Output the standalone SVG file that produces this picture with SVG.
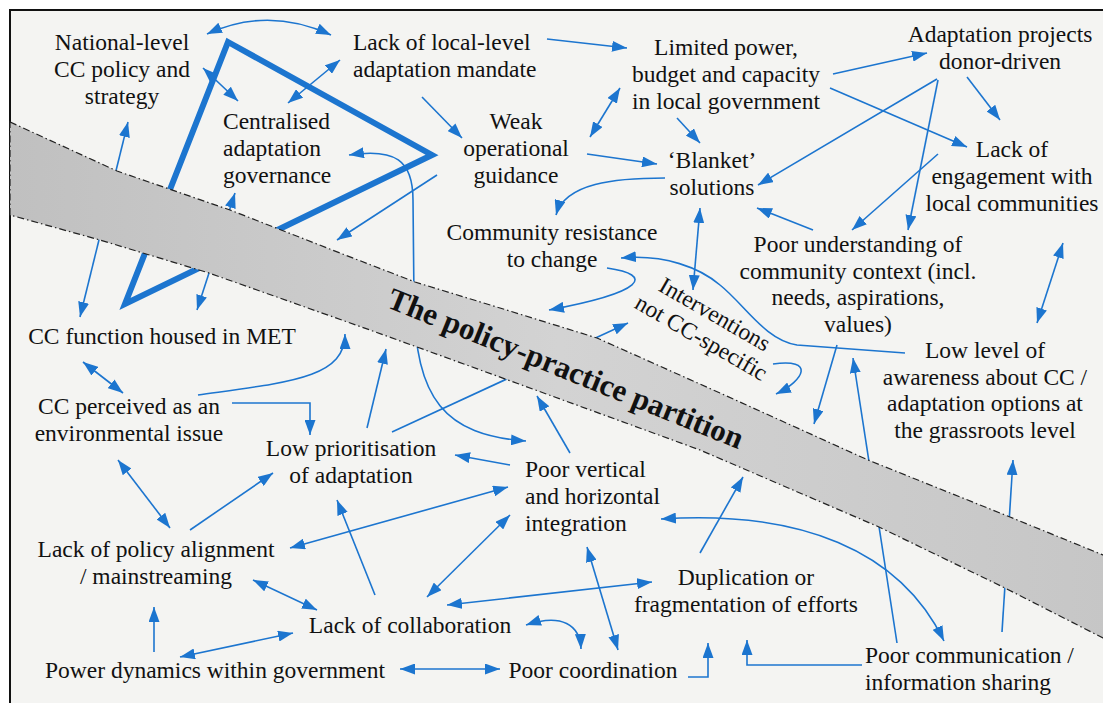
<svg xmlns="http://www.w3.org/2000/svg" width="1103" height="703" viewBox="0 0 1103 703">
<defs>
<style>
.t{font-family:"Liberation Serif","Times New Roman",serif;font-size:23.5px;fill:#111}
.c path{fill:none;stroke:#1c75cf;stroke-width:1.6}
.e{marker-end:url(#ah)}
.b{marker-start:url(#ah);marker-end:url(#ah)}
</style>
<marker id="ah" markerUnits="userSpaceOnUse" markerWidth="15" markerHeight="11" refX="15" refY="5.5" orient="auto-start-reverse"><path d="M0,0 L15,5.5 L0,11 z" fill="#1c75cf"/></marker>
<linearGradient id="bg" x1="0" y1="0" x2="1" y2="0"><stop offset="0" stop-color="#c0c0c0"/><stop offset="0.5" stop-color="#d3d3d3"/><stop offset="1" stop-color="#c6c6c6"/></linearGradient>
</defs>
<rect width="1103" height="703" fill="#fff"/>
<rect x="10" y="10" width="1100" height="700" fill="#f4f4f2" stroke="#111" stroke-width="2"/>
<g id="triangle"><path d="M228,42 L432,155 L125,304 Z" fill="none" stroke="#1c75cf" stroke-width="6"/></g>
<g id="connectors" class="c">
<path class="b" d="M207,34 Q268,6 331,35"/>
<path class="b" d="M203,68 L238,101"/>
<path class="b" d="M340,60 L288,103"/>
<path class="b" d="M128,122 L80,317"/>
<path class="b" d="M235,193 L197,310"/>
<path class="e" d="M422,97 L462,138"/>
<path class="e" d="M547,39 L627,48"/>
<path class="b" d="M590,137 L620,88"/>
<path class="e" d="M587,154 L657,164"/>
<path class="e" d="M677,118 L700,143"/>
<path class="e" d="M665,178 C615,178 565,183 556,215"/>
<path class="b" d="M349,155 C395,148 413,160 413,200 L414,300 C415,400 445,435 526,441"/>
<path class="e" d="M437,175 L337,240"/>
<path class="e" d="M833,74 L927,53"/>
<path class="e" d="M830,88 L967,147"/>
<path class="e" d="M937,79 L758,185"/>
<path class="e" d="M938,80 L908,230"/>
<path class="e" d="M967,77 L1000,120"/>
<path class="e" d="M938,154 L852,230"/>
<path class="e" d="M813,230 L757,208"/>
<path class="b" d="M700,208 L693,290"/>
<path class="e" d="M905,353 L797,345 C765,340 745,305 720,285 C700,268 665,254 621,258"/>
<path class="e" d="M607,268 C655,275 645,292 549,310"/>
<path class="e" d="M773,364 C815,358 805,380 776,394"/>
<path class="e" d="M837,345 L814,424"/>
<path class="e" d="M897,643 L853,358"/>
<path class="b" d="M1063,243 L1037,323"/>
<path class="e" d="M1002,632 L1013,460"/>
<path class="b" d="M661,519 C800,510 900,550 944,641"/>
<path class="e" d="M700,553 L743,477"/>
<path class="e" d="M688,677 H708 V643"/>
<path class="e" d="M862,665 H747 V640"/>
<path class="b" d="M587,547 L618,650"/>
<path class="b" d="M447,605 L652,582"/>
<path class="b" d="M427,597 L510,515"/>
<path class="b" d="M526,625 C562,613 580,625 581,649"/>
<path class="b" d="M400,669 L500,669"/>
<path class="e" d="M375,595 L337,500"/>
<path class="b" d="M290,548 L508,487"/>
<path class="e" d="M190,530 L273,473"/>
<path class="b" d="M118,460 L170,528"/>
<path class="b" d="M253,580 L317,610"/>
<path class="e" d="M154,652 L154,607"/>
<path class="b" d="M180,657 L293,633"/>
<path class="b" d="M83,362 L123,393"/>
<path class="e" d="M198,395 C290,382 345,378 345,334"/>
<path class="e" d="M232,403 H310 V435"/>
<path class="e" d="M367,428 L386,349"/>
<path class="e" d="M392,432 L628,323"/>
<path class="e" d="M570,453 L537,396"/>
<path class="e" d="M510,465 L455,455"/>
</g>
<g id="partition">
<path d="M10,122 L117,171 L230,210 L340,253 L415,282 L500,308 L597,338 L720,393 L868,460 L1010,517 L1103,555 L1110,558 L1110,642 L1103,638 L1005,588 L879,527 L700,450 L508,380 L370,330 L209,273 L100,240 L10,215 Z" fill="url(#bg)" stroke="#222" stroke-width="1.2" stroke-dasharray="7 3 1.5 3"/>
<text transform="translate(562,378) rotate(22)" text-anchor="middle" style="font-family:'Liberation Serif','Times New Roman',serif;font-size:31px;font-weight:bold;fill:#111">The policy-practice partition</text>
</g>
<g id="n-national"><text class="t" text-anchor="middle"><tspan x="122" y="50">National-level</tspan><tspan x="122" y="77">CC policy and</tspan><tspan x="122" y="104">strategy</tspan></text></g>
<g id="n-lack-local"><text class="t"><tspan x="353" y="50">Lack of local-level</tspan><tspan x="353" y="77">adaptation mandate</tspan></text></g>
<g id="n-limited"><text class="t" text-anchor="middle"><tspan x="726" y="55">Limited power,</tspan><tspan x="726" y="82">budget and capacity</tspan><tspan x="726" y="109">in local government</tspan></text></g>
<g id="n-donor"><text class="t" text-anchor="middle"><tspan x="1000" y="42">Adaptation projects</tspan><tspan x="1000" y="69">donor-driven</tspan></text></g>
<g id="n-centralised"><text class="t"><tspan x="223" y="129">Centralised</tspan><tspan x="223" y="156">adaptation</tspan><tspan x="223" y="183">governance</tspan></text></g>
<g id="n-weak"><text class="t" text-anchor="middle"><tspan x="516" y="129">Weak</tspan><tspan x="516" y="156">operational</tspan><tspan x="516" y="183">guidance</tspan></text></g>
<g id="n-blanket"><text class="t" text-anchor="middle"><tspan x="712" y="168">‘Blanket’</tspan><tspan x="712" y="195">solutions</tspan></text></g>
<g id="n-engagement"><text class="t" text-anchor="middle"><tspan x="1012" y="157">Lack of</tspan><tspan x="1012" y="184">engagement with</tspan><tspan x="1012" y="211">local communities</tspan></text></g>
<g id="n-resistance"><text class="t" text-anchor="middle"><tspan x="552" y="240">Community resistance</tspan><tspan x="552" y="267">to change</tspan></text></g>
<g id="n-understanding"><text class="t" text-anchor="middle"><tspan x="858" y="252">Poor understanding of</tspan><tspan x="858" y="279">community context (incl.</tspan><tspan x="858" y="305">needs, aspirations,</tspan><tspan x="858" y="332">values)</tspan></text></g>
<g id="n-interventions"><text class="t" text-anchor="middle" transform="translate(711,321) rotate(30)"><tspan x="0" y="0">Interventions</tspan><tspan x="0" y="27">not CC-specific</tspan></text></g>
<g id="n-met"><text class="t" text-anchor="middle" x="162" y="344">CC function housed in MET</text></g>
<g id="n-perceived"><text class="t" text-anchor="middle"><tspan x="129" y="414">CC perceived as an</tspan><tspan x="129" y="441">environmental issue</tspan></text></g>
<g id="n-prioritisation"><text class="t" text-anchor="middle"><tspan x="351" y="456">Low prioritisation</tspan><tspan x="351" y="483">of adaptation</tspan></text></g>
<g id="n-integration"><text class="t"><tspan x="525" y="477">Poor vertical</tspan><tspan x="525" y="504">and horizontal</tspan><tspan x="525" y="531">integration</tspan></text></g>
<g id="n-alignment"><text class="t" text-anchor="middle"><tspan x="156" y="557">Lack of policy alignment</tspan><tspan x="156" y="584">/ mainstreaming</tspan></text></g>
<g id="n-collaboration"><text class="t" text-anchor="middle" x="410" y="633">Lack of collaboration</text></g>
<g id="n-duplication"><text class="t" text-anchor="middle"><tspan x="746" y="585">Duplication or</tspan><tspan x="746" y="612">fragmentation of efforts</tspan></text></g>
<g id="n-power"><text class="t" text-anchor="middle" x="215" y="678">Power dynamics within government</text></g>
<g id="n-coordination"><text class="t" text-anchor="middle" x="593" y="678">Poor coordination</text></g>
<g id="n-communication"><text class="t"><tspan x="865" y="663">Poor communication /</tspan><tspan x="865" y="690">information sharing</tspan></text></g>
<g id="n-awareness"><text class="t" text-anchor="middle"><tspan x="985" y="358">Low level of</tspan><tspan x="985" y="385">awareness about CC /</tspan><tspan x="985" y="411">adaptation options at</tspan><tspan x="985" y="438">the grassroots level</tspan></text></g>
</svg>
